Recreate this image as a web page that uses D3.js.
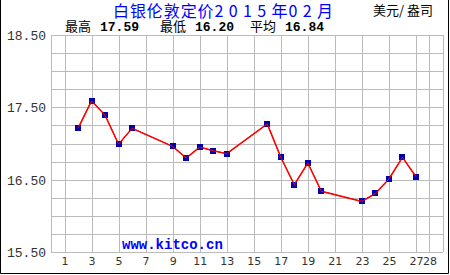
<!DOCTYPE html>
<html>
<head>
<meta charset="utf-8">
<script src="https://cdn.jsdelivr.net/npm/d3@7"></script>
<style>
  body { margin: 0; background: #fff; }
  svg { display: block; }
</style>
</head>
<body>
<div id="chart"></div>
<script>
// silver London fix, Feb 2015 (USD / oz)
var days = [2, 3, 4, 5, 6, 9, 10, 11, 12, 13, 16, 17, 18, 19, 20, 23, 24, 25, 26, 27];
var prices = [17.21, 17.59, 17.39, 16.99, 17.21, 16.96, 16.80, 16.95, 16.90, 16.86,
              17.27, 16.81, 16.43, 16.73, 16.34, 16.20, 16.31, 16.51, 16.81, 16.54];
var xTicks = [1, 3, 5, 7, 9, 11, 13, 15, 17, 19, 21, 23, 25, 27, 28];
var yTicks = [15.5, 16.5, 17.5, 18.5];
var yGrid = [15.5, 15.75, 16.0, 16.25, 16.5, 16.75, 17.0, 17.25, 17.5, 17.75, 18.0, 18.25, 18.5];
var stats = [["最高", "17.59"], ["最低", "16.20"], ["平均", "16.84"]];

var width = 450, height = 275;
var pl = 51, pr = 443, pt = 35, pb = 252;

var x = d3.scaleLinear().domain([0, 29]).range([pl, pr]);
var y = d3.scaleLinear().domain([15.5, 18.5]).range([pb, pt]);

var svg = d3.select("#chart").append("svg").attr("width", width).attr("height", height);

// outer frame
svg.append("path").attr("d", "M0.5,0V273.5H448.5V0")
  .attr("fill", "none").attr("stroke", "#000").attr("stroke-width", 1);

var grid = svg.append("g").attr("stroke", "#bbb").attr("stroke-width", 1).attr("shape-rendering", "crispEdges");
grid.selectAll(".h").data(yGrid).enter().append("line")
  .attr("x1", pl).attr("x2", pr)
  .attr("y1", function (d) { return Math.round(y(d)) + 0.5; })
  .attr("y2", function (d) { return Math.round(y(d)) + 0.5; });
grid.selectAll(".v").data(xTicks.concat([0, 29])).enter().append("line")
  .attr("y1", pt).attr("y2", pb)
  .attr("x1", function (d) { return Math.round(x(d)) + 0.5; })
  .attr("x2", function (d) { return Math.round(x(d)) + 0.5; });

// axes labels
var yAxis = d3.axisLeft(y).tickValues(yTicks).tickSize(0).tickPadding(5).tickFormat(d3.format(".2f"));
var gy = svg.append("g").attr("transform", "translate(" + pl + ",0)").call(yAxis);
gy.select(".domain").remove();
gy.selectAll("text").attr("font-family", "Liberation Mono, DejaVu Sans Mono, monospace")
  .attr("font-size", 13).attr("fill", "#333").attr("dy", "0.35em");

var xAxis = d3.axisBottom(x).tickValues(xTicks).tickSize(0).tickPadding(5);
var gx = svg.append("g").attr("transform", "translate(0," + pb + ")").call(xAxis);
gx.select(".domain").remove();
gx.selectAll("text").attr("font-family", "DejaVu Sans, sans-serif")
  .attr("font-size", 11).attr("fill", "#333");

// line + markers
var line = d3.line().x(function (d, i) { return x(days[i]); }).y(function (d) { return y(d); });
svg.append("path").datum(prices).attr("d", line)
  .attr("fill", "none").attr("stroke", "#f00").attr("stroke-width", 1.5);
svg.selectAll(".pt").data(prices).enter().append("rect")
  .attr("x", function (d, i) { return Math.round(x(days[i])) - 3; })
  .attr("y", function (d) { return Math.round(y(d)) - 3; })
  .attr("width", 6).attr("height", 6).attr("fill", "#0000b0");
svg.append("path").datum(prices).attr("d", line)
  .attr("fill", "none").attr("stroke", "#f00").attr("stroke-width", 1);

// titles
svg.append("text").attr("x", 113).attr("y", 17)
  .attr("font-family", "Noto Sans CJK SC, sans-serif").attr("font-size", 16).attr("fill", "#00f")
  .attr("textLength", 220).attr("lengthAdjust", "spacing")
  .text("白银伦敦定价2 0 1 5 年0 2 月");
svg.append("text").attr("x", 433).attr("y", 15).attr("text-anchor", "end")
  .attr("font-family", "Noto Sans CJK SC, sans-serif").attr("font-size", 13).attr("fill", "#000")
  .text("美元/ 盎司");

var sx = [65, 160, 250];
var st = svg.selectAll(".st").data(stats).enter().append("text")
  .attr("x", function (d, i) { return sx[i]; }).attr("y", 31)
  .attr("font-size", 13).attr("fill", "#000");
st.append("tspan").attr("font-family", "Noto Sans CJK SC, sans-serif").text(function (d) { return d[0]; });
st.append("tspan").attr("dx", 9).attr("font-family", "Liberation Mono, DejaVu Sans Mono, monospace")
  .attr("font-weight", "bold").text(function (d) { return d[1]; });

svg.append("text").attr("x", 122).attr("y", 249)
  .attr("font-family", "Liberation Mono, DejaVu Sans Mono, monospace")
  .attr("font-weight", "bold").attr("font-size", 14).attr("fill", "#00f")
  .text("www.kitco.cn");
</script>
</body>
</html>
